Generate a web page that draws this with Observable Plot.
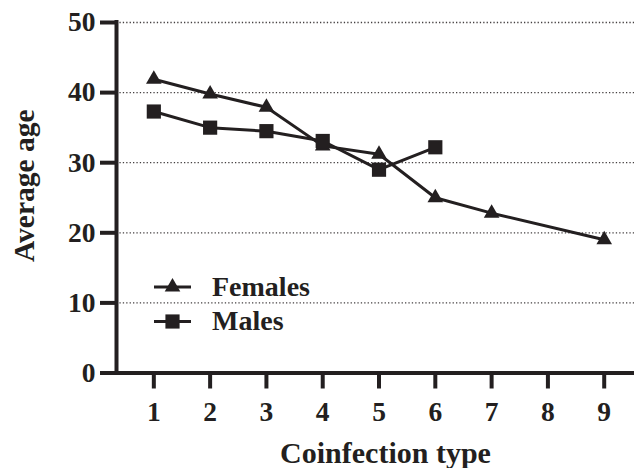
<!DOCTYPE html>
<html>
<head>
<meta charset="utf-8">
<script src="https://cdn.jsdelivr.net/npm/d3@7"></script>
<script src="https://cdn.jsdelivr.net/npm/@observablehq/plot@0.6"></script>
<style>
  html, body { margin: 0; padding: 0; background: #fff; }
  #chart { width: 634px; height: 468px; }
</style>
</head>
<body>
<div id="chart"></div>
<script>
// ---- Data ----
const femaleTypes = [1, 2, 3, 4, 5, 6, 7, 9];
const femaleAge   = [41.9, 39.8, 37.9, 32.4, 31.2, 25.0, 22.8, 19.0];
const maleTypes   = [1, 2, 3, 4, 5, 6];
const maleAge     = [37.3, 35.0, 34.5, 33.1, 29.0, 32.2];
const xTicks = [1, 2, 3, 4, 5, 6, 7, 8, 9];
const yTicks = [0, 10, 20, 30, 40, 50];
const gridTicks = [10, 20, 30, 40, 50];
const seriesNames = ["Females", "Males"];
const xTitle = "Coinfection type";
const yTitle = "Average age";

const females = femaleTypes.map((t, i) => ({type: t, age: femaleAge[i]}));
const males = maleTypes.map((t, i) => ({type: t, age: maleAge[i]}));

const ink = "#231f20";
const xDomain = [0.337, 9.538];

const svg = Plot.plot({
  width: 634,
  height: 468,
  marginLeft: 116,
  marginRight: 0,
  marginTop: 22,
  marginBottom: 95.5,
  x: {domain: xDomain},
  y: {domain: [0, 50]},
  style: {
    fontFamily: "'Liberation Serif', 'Times New Roman', serif",
    fontSize: "27px",
    fontWeight: "bold",
    color: ink,
    background: "white",
    overflow: "visible"
  },
  marks: [
    Plot.gridY({ticks: gridTicks, stroke: ink, strokeOpacity: 0.85, strokeWidth: 1.3, strokeDasharray: "1.3,2.1"}),
    Plot.ruleX([xDomain[0]], {stroke: ink, strokeWidth: 4, strokeLinecap: "square"}),
    Plot.ruleY([0], {stroke: ink, strokeWidth: 4, strokeLinecap: "square"}),
    Plot.axisY({ticks: yTicks, tickSize: 16, tickPadding: 5, strokeWidth: 4, stroke: ink, label: null, fontSize: 27.5, fontWeight: "bold"}),
    Plot.axisX({ticks: xTicks, tickSize: 16, tickPadding: 12, strokeWidth: 4, stroke: ink, label: null, fontSize: 27.5, fontWeight: "bold", tickFormat: d => String(d)}),
    Plot.line(females, {x: "type", y: "age", stroke: ink, strokeWidth: 3}),
    Plot.line(males, {x: "type", y: "age", stroke: ink, strokeWidth: 3}),
    Plot.dot(females, {x: "type", y: "age", symbol: "triangle", r: 5.8, fill: ink, stroke: "none"}),
    Plot.dot(males, {x: "type", y: "age", symbol: "square", r: 8, fill: ink, stroke: "none"}),
    Plot.text([yTitle], {text: d => d, frameAnchor: "left", textAnchor: "middle", lineAnchor: "middle", rotate: -90, dx: -92, dy: -12, fontSize: 29.5, fontWeight: "bold", fill: ink}),
    Plot.text([xTitle], {text: d => d, frameAnchor: "bottom", textAnchor: "middle", lineAnchor: "middle", dx: 10, dy: 80, fontSize: 30, fontWeight: "bold", fill: ink})
  ]
});

// ---- Legend (inside the plot area) ----
const sel = d3.select(svg);
const lg = sel.append("g").attr("class", "legend");
const symbols = [d3.symbolTriangle, d3.symbolSquare];
const sizes = [5.8 * 5.8 * Math.PI, 8 * 8 * Math.PI];
const rowY = [287, 321.5];
seriesNames.forEach((name, i) => {
  const g = lg.append("g").attr("transform", `translate(0,${rowY[i]})`);
  g.append("line").attr("x1", 154).attr("x2", 191).attr("y1", 0).attr("y2", 0)
    .attr("stroke", ink).attr("stroke-width", 3);
  g.append("path").attr("transform", "translate(172.5,0)")
    .attr("d", d3.symbol(symbols[i], sizes[i])()).attr("fill", ink);
  g.append("text").attr("x", 212).attr("y", 0).attr("dy", "0.32em")
    .attr("text-anchor", "start")
    .attr("fill", ink).attr("font-size", 28).attr("font-weight", "bold")
    .text(name);
});

document.getElementById("chart").appendChild(svg);
</script>
</body>
</html>
